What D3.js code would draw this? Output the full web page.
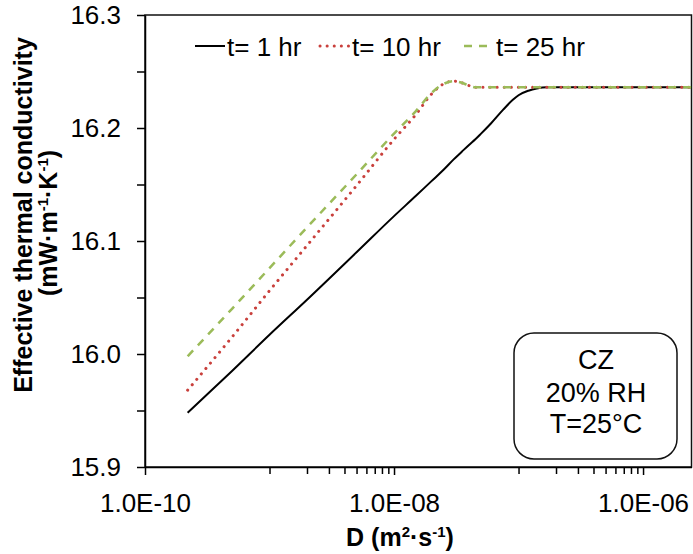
<!DOCTYPE html>
<meta charset="utf-8">

<head>
    <title>Effective thermal conductivity vs D</title>
</head>

<style>
    body {
        margin: 0;
        background: #fff;
    }

    text {
        font-family: 'Liberation Sans', Arial, sans-serif;
        fill: #000;
    }

    .tick text {
        font-size: 26px;
    }

    .axis path,
    .axis line {
        stroke: #000;
        stroke-width: 1.5;
    }

    .title {
        font-size: 25px;
        font-weight: bold;
        text-anchor: middle;
    }

    .legend_text {
        font-size: 26px;
    }

    .box_text {
        font-size: 27px;
        text-anchor: middle;
    }
</style>

<body>
    <svg id="chart" width="693" height="554"></svg>

    <script src="https://d3js.org/d3.v7.min.js"></script>
    <script>
        // D (m2/s) sample points
        const dValues = [2.2e-10, 5e-10, 1e-9, 2e-9, 5e-9, 1e-8, 1.5e-8, 2e-8, 2.5e-8, 3e-8, 3.5e-8, 4e-8, 4.5e-8,
            5e-8, 6e-8, 7.5e-8, 9e-8, 1e-7, 1.2e-7, 1.4e-7, 1.7e-7, 2e-7, 3e-7, 5e-7, 1e-6, 2.45e-6];

        // effective thermal conductivity (mW/m/K)
        const cond1hr = [15.948, 15.985, 16.017, 16.048, 16.090, 16.122, 16.140, 16.153, 16.163, 16.172, 16.179, 16.185, 16.190,
            16.195, 16.204, 16.216, 16.225, 16.229, 16.233, 16.235, 16.236, 16.236, 16.236, 16.236, 16.236, 16.236];
        const cond10hr = [15.968, 16.015, 16.056, 16.096, 16.149, 16.190, 16.212, 16.230, 16.239, 16.2415, 16.240, 16.2375, 16.236,
            16.236, 16.236, 16.236, 16.236, 16.236, 16.236, 16.236, 16.236, 16.236, 16.236, 16.236, 16.236, 16.236];
        const cond25hr = [15.998, 16.040, 16.076, 16.112, 16.159, 16.195, 16.215, 16.231, 16.239, 16.2415, 16.240, 16.2375, 16.236,
            16.236, 16.236, 16.236, 16.236, 16.236, 16.236, 16.236, 16.236, 16.236, 16.236, 16.236, 16.236, 16.236];

        const seriesNames = ["t= 1 hr", "t= 10 hr", "t= 25 hr"];

        const xMajorTicks = [1e-10, 1e-8, 1e-6];
        const xTickLabels = ["1.0E-10", "1.0E-08", "1.0E-06"];
        const xMinorTicks = [1e-9, 2e-9, 3e-9, 4e-9, 5e-9, 6e-9, 7e-9, 8e-9, 9e-9,
            1e-7, 2e-7, 3e-7, 4e-7, 5e-7, 6e-7, 7e-7, 8e-7, 9e-7];
        const yTicks = [15.9, 15.95, 16.0, 16.05, 16.1, 16.15, 16.2, 16.25, 16.3];
        const yTickLabels = ["15.9", "", "16.0", "", "16.1", "", "16.2", "", "16.3"];

        const boxLines = ["CZ", "20% RH", "T=25°C"];

        const chart = d3.select("#chart");

        const plotLeft = 145, plotRight = 691.5, plotTop = 15, plotBottom = 467;

        const xScale = d3.scaleLog().domain([1e-10, 2.45e-6]).range([plotLeft, plotRight]);
        const yScale = d3.scaleLinear().domain([15.9, 16.3]).range([plotBottom, plotTop]);

        // plot frame
        chart.append("rect")
            .attr("x", plotLeft)
            .attr("y", plotTop)
            .attr("width", plotRight - plotLeft)
            .attr("height", plotBottom - plotTop)
            .attr("fill", "none")
            .attr("stroke", "#111")
            .attr("stroke-width", 1.5);

        //axis
        chart.append("g")
            .attr("class", "axis")
            .attr("transform", "translate(0," + plotBottom + ")")
            .call(d3.axisBottom(xScale)
                .tickValues(xMajorTicks)
                .tickFormat((d, i) => xTickLabels[i])
                .tickSize(8)
                .tickSizeOuter(0)
                .tickPadding(19));

        chart.append("g")
            .attr("class", "axis")
            .attr("transform", "translate(0," + plotBottom + ")")
            .call(d3.axisBottom(xScale)
                .tickValues(xMinorTicks)
                .tickFormat("")
                .tickSize(7))
            .select(".domain").remove();

        chart.append("g")
            .attr("class", "axis")
            .attr("transform", "translate(" + plotLeft + ",0)")
            .call(d3.axisLeft(yScale)
                .tickValues(yTicks)
                .tickFormat((d, i) => yTickLabels[i])
                .tickSize(8)
                .tickSizeOuter(0)
                .tickPadding(16));

        chart.selectAll(".tick text").attr("fill", "#000");

        // axis titles
        const xTitle = chart.append("text")
            .attr("class", "title")
            .attr("x", 400)
            .attr("y", 546);
        xTitle.append("tspan").text("D (m");
        xTitle.append("tspan").attr("dy", -9).style("font-size", "15px").text("2");
        xTitle.append("tspan").attr("dy", 9).text("·s");
        xTitle.append("tspan").attr("dy", -9).style("font-size", "15px").text("-1");
        xTitle.append("tspan").attr("dy", 9).text(")");

        chart.append("text")
            .attr("class", "title")
            .attr("transform", "translate(32,215)rotate(-90)")
            .text("Effective thermal conductivity");

        const yTitle2 = chart.append("text")
            .attr("class", "title")
            .attr("transform", "translate(57,223)rotate(-90)");
        yTitle2.append("tspan").text("(mW·m");
        yTitle2.append("tspan").attr("dy", -9).style("font-size", "15px").text("-1");
        yTitle2.append("tspan").attr("dy", 9).text("·K");
        yTitle2.append("tspan").attr("dy", -9).style("font-size", "15px").text("-1");
        yTitle2.append("tspan").attr("dy", 9).text(")");

        //series
        const styles = [
            { color: "#000", width: 2, dash: null, cap: "butt" },
            { color: "#C9403C", width: 3, dash: "0.1,7", cap: "round" },
            { color: "#9BBB59", width: 2.5, dash: "8,7", cap: "butt" }
        ];
        const seriesData = [cond1hr, cond10hr, cond25hr].map(vals =>
            vals.map((v, i) => ({ D: dValues[i], v: v })));

        const lineGen = d3.line()
            .x(d => xScale(d.D))
            .y(d => yScale(d.v))
            .curve(d3.curveMonotoneX);

        chart.append("g")
            .selectAll("path")
            .data(seriesData)
            .enter()
            .append("path")
            .attr("d", lineGen)
            .attr("fill", "none")
            .attr("stroke", (d, i) => styles[i].color)
            .attr("stroke-width", (d, i) => styles[i].width)
            .attr("stroke-dasharray", (d, i) => styles[i].dash)
            .attr("stroke-linecap", (d, i) => styles[i].cap);

        //Legend
        const legendX = [195, 320, 464];
        const legendY = 46;
        const legend = chart.append("g")
            .selectAll("g")
            .data(seriesNames)
            .enter()
            .append("g");

        legend.append("line")
            .attr("x1", (d, i) => legendX[i])
            .attr("x2", (d, i) => legendX[i] + 30)
            .attr("y1", legendY)
            .attr("y2", legendY)
            .attr("stroke", (d, i) => styles[i].color)
            .attr("stroke-width", (d, i) => styles[i].width)
            .attr("stroke-dasharray", (d, i) => styles[i].dash)
            .attr("stroke-linecap", (d, i) => styles[i].cap);

        legend.append("text")
            .attr("class", "legend_text")
            .attr("x", (d, i) => legendX[i] + 32)
            .attr("y", legendY + 10)
            .text(d => d);

        // annotation box
        chart.append("rect")
            .attr("x", 514)
            .attr("y", 333)
            .attr("width", 163)
            .attr("height", 126)
            .attr("rx", 20)
            .attr("fill", "#fff")
            .attr("stroke", "#111")
            .attr("stroke-width", 1.5);

        chart.append("g")
            .selectAll("text")
            .data(boxLines)
            .enter()
            .append("text")
            .attr("class", "box_text")
            .attr("x", 596)
            .attr("y", (d, i) => [369, 402, 433][i])
            .text(d => d);
    </script>
</body>

</html>
